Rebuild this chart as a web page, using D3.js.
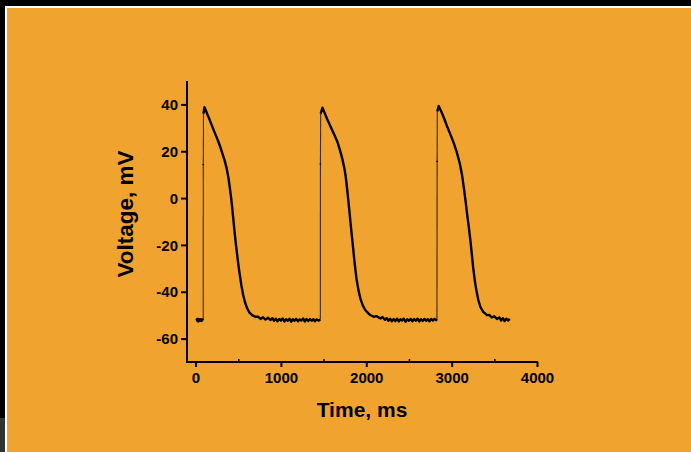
<!DOCTYPE html>
<html>
<head>
<meta charset="utf-8">
<script src="https://cdn.jsdelivr.net/npm/d3@7"></script>
<style>
  html, body { margin: 0; padding: 0; background: #000; }
  svg { display: block; }
  text { font-family: "Liberation Sans", Arial, sans-serif; font-weight: bold; fill: #000; }
</style>
</head>
<body>
<svg id="chart" width="691" height="452"></svg>
<script>
// ---- Data (time in ms, voltage in mV) ----
const beat1T = [10, 20, 30, 40, 50, 60, 70, 80, 90, 91, 93, 104,
  120, 140, 156, 180, 200, 234, 260, 290, 312, 340, 363, 385, 402, 418, 430, 445, 457, 472, 488, 503, 519, 538, 558, 580, 605, 632, 663, 700, 730, 761, 790, 820, 850, 878,
  900, 920, 940, 960, 980, 1000, 1020, 1040, 1060, 1080, 1100, 1120, 1140, 1160, 1180, 1200, 1220, 1240, 1260, 1280, 1300, 1320, 1340, 1360, 1380, 1400, 1420, 1440, 1462];
const beat1V = [-52.3, -51.6, -52.6, -51.8, -52.4, -51.7, -52.5, -51.9, -52.2, 14.3, 36.0, 38.8,
  37.5, 35.6, 34.3, 32.0, 30.2, 27.1, 24.8, 21.8, 19.3, 16.2, 12.9, 8.8, 4.3, -0.2, -4.3, -9.8, -14.3, -19.5, -24.3, -28.8, -32.9, -37.5, -41.4, -44.6, -47.1, -48.9, -50.0, -50.7, -50.6, -51.6, -50.9, -51.9, -51.1, -52.1,
  -51.3, -52.4, -51.5, -52.6, -51.6, -52.3, -51.4, -52.7, -51.7, -52.4, -51.5, -52.8, -51.7, -52.4, -51.6, -52.6, -51.8, -52.3, -51.4, -52.7, -51.6, -52.5, -51.6, -52.4, -51.7, -52.6, -51.8, -52.3, -51.9];

const beat2T = [1463, 1466, 1487,
  1510, 1540, 1580, 1620, 1659, 1690, 1717, 1740, 1756, 1770, 1783, 1800, 1814, 1830, 1846, 1865, 1885, 1908, 1931, 1960, 1990, 2040, 2087, 2120, 2166, 2190, 2220,
  2240, 2260, 2280, 2300, 2320, 2340, 2360, 2380, 2400, 2420, 2440, 2460, 2480, 2500, 2520, 2540, 2560, 2580, 2600, 2620, 2640, 2660, 2680, 2700, 2720, 2740, 2760, 2780, 2800, 2828];
const beat2V = [14.5, 36.0, 38.6,
  36.6, 33.9, 30.7, 27.5, 24.3, 20.7, 17.1, 13.4, 10.0, 5.8, 1.4, -4.6, -10.0, -15.7, -21.4, -28.2, -34.3, -39.3, -42.9, -45.9, -47.9, -49.8, -50.7, -50.4, -51.4, -50.8, -52.0,
  -51.3, -52.4, -51.5, -52.6, -51.6, -52.5, -51.5, -52.7, -51.7, -52.3, -51.5, -52.8, -51.7, -52.4, -51.6, -52.6, -51.6, -52.4, -51.5, -52.7, -51.7, -52.5, -51.6, -52.4, -51.7, -52.6, -51.6, -52.3, -51.6, -52.4];

const beat3T = [2830, 2832, 2848,
  2880, 2910, 2946, 2985, 3024, 3060, 3094, 3120, 3141, 3160, 3180, 3200, 3219, 3235, 3251, 3270, 3289, 3312, 3336, 3370, 3414, 3440, 3470, 3500, 3531,
  3560, 3580, 3600, 3620, 3640, 3660, 3680];
const beat3V = [15.7, 37.0, 39.3,
  36.9, 34.2, 30.7, 27.2, 23.6, 19.6, 15.0, 10.2, 5.0, -0.3, -6.4, -12.1, -17.9, -23.4, -29.3, -34.8, -39.3, -43.4, -46.4, -48.6, -50.0, -49.9, -51.0, -50.5, -51.6,
  -51.0, -52.3, -51.3, -52.5, -51.5, -52.3, -51.6];

const xTicks = [0, 1000, 2000, 3000, 4000];
const xMinorTicks = [500, 1500, 2500, 3500];
const yTicks = [-60, -40, -20, 0, 20, 40];
const xTitle = "Time, ms";
const yTitle = "Voltage, mV";

// ---- Frame ----
const svg = d3.select("#chart");
svg.append("rect").attr("x", 0).attr("y", 0).attr("width", 691).attr("height", 452).attr("fill", "#000");
svg.append("rect").attr("x", 0).attr("y", 418).attr("width", 5).attr("height", 34).attr("fill", "#333333");
svg.append("rect").attr("x", 5).attr("y", 6).attr("width", 686).attr("height", 446).attr("fill", "#ffffff");
svg.append("rect").attr("x", 7).attr("y", 8).attr("width", 684).attr("height", 444).attr("fill", "#F0A32F");

// ---- Scales ----
const x = d3.scaleLinear().domain([-100, 4000]).range([187, 537]);
const y = d3.scaleLinear().domain([-70, 50]).range([362, 81]);

// ---- Trace ----
const allPts = [];
beat1T.forEach((t, i) => allPts.push([t, beat1V[i]]));
beat2T.forEach((t, i) => allPts.push([t, beat2V[i]]));
beat3T.forEach((t, i) => allPts.push([t, beat3V[i]]));

// split into fast upstroke segments (thin) and the rest (thick)
const line = d3.line().x(d => x(d[0])).y(d => y(d[1]));
const thick = [], thin = [];
let cur = [allPts[0]];
for (let i = 1; i < allPts.length; i++) {
  const a = allPts[i - 1], b = allPts[i];
  const rising = (b[1] - a[1]) > 15;
  if (rising) {
    thin.push([a, b]);
    if (cur.length > 1) thick.push(cur);
    cur = [b];
  } else {
    cur.push(b);
  }
}
if (cur.length > 1) thick.push(cur);

const g = svg.append("g");
thin.forEach(seg => g.append("path").attr("d", line(seg)).attr("fill", "none")
  .attr("stroke", "#3b2a12").attr("stroke-width", 1.1));
thick.forEach(seg => g.append("path").attr("d", line(seg)).attr("fill", "none")
  .attr("stroke", "#000").attr("stroke-width", 2.4).attr("stroke-linejoin", "round"));
// small marks on the upstrokes
[[beat1T[9], beat1V[9]], [beat2T[0], beat2V[0]], [beat3T[0], beat3V[0]]].forEach(p => {
  g.append("line").attr("x1", x(p[0]) - 0.8).attr("x2", x(p[0]) + 0.8)
    .attr("y1", y(p[1])).attr("y2", y(p[1])).attr("stroke", "#000").attr("stroke-width", 1.2);
});
// start blob
g.append("circle").attr("cx", x(beat1T[0]) + 2).attr("cy", y(-52.1)).attr("r", 2.4).attr("fill", "#000");

const fmt = d => String(d);

// ---- Axes ----
const yAxis = d3.axisLeft(y).tickValues(yTicks).tickSize(6).tickPadding(3).tickFormat(fmt);
const gy = svg.append("g").attr("transform", "translate(187,0)").call(yAxis);
gy.select(".domain").remove();
gy.selectAll(".tick line").attr("stroke", "#000").attr("stroke-width", 2);
gy.selectAll(".tick text").attr("font-size", 15).attr("fill", "#000").attr("dy", "0.34em");
svg.append("line").attr("x1", 187).attr("x2", 187).attr("y1", 81).attr("y2", 363)
  .attr("stroke", "#000").attr("stroke-width", 2);

const xAxis = d3.axisBottom(x).tickValues(xTicks).tickSize(5).tickPadding(5).tickFormat(fmt);
const gx = svg.append("g").attr("transform", "translate(0,362)").call(xAxis);
gx.select(".domain").remove();
gx.selectAll(".tick line").attr("stroke", "#000").attr("stroke-width", 2);
gx.selectAll(".tick text").attr("font-size", 15).attr("fill", "#000");
const xMinor = d3.axisBottom(x).tickValues(xMinorTicks).tickSize(-3).tickFormat("");
const gxm = svg.append("g").attr("transform", "translate(0,362)").call(xMinor);
gxm.select(".domain").remove();
gxm.selectAll(".tick line").attr("stroke", "#000").attr("stroke-width", 1.5);
svg.append("line").attr("x1", 186).attr("x2", 538).attr("y1", 362).attr("y2", 362)
  .attr("stroke", "#000").attr("stroke-width", 2);

// ---- Titles ----
svg.append("text").attr("x", 362).attr("y", 417).attr("text-anchor", "middle")
  .attr("font-size", 21).text(xTitle);
svg.append("text").attr("transform", "translate(133,214) rotate(-90)").attr("text-anchor", "middle")
  .attr("font-size", 22.5).text(yTitle);
</script>
</body>
</html>
